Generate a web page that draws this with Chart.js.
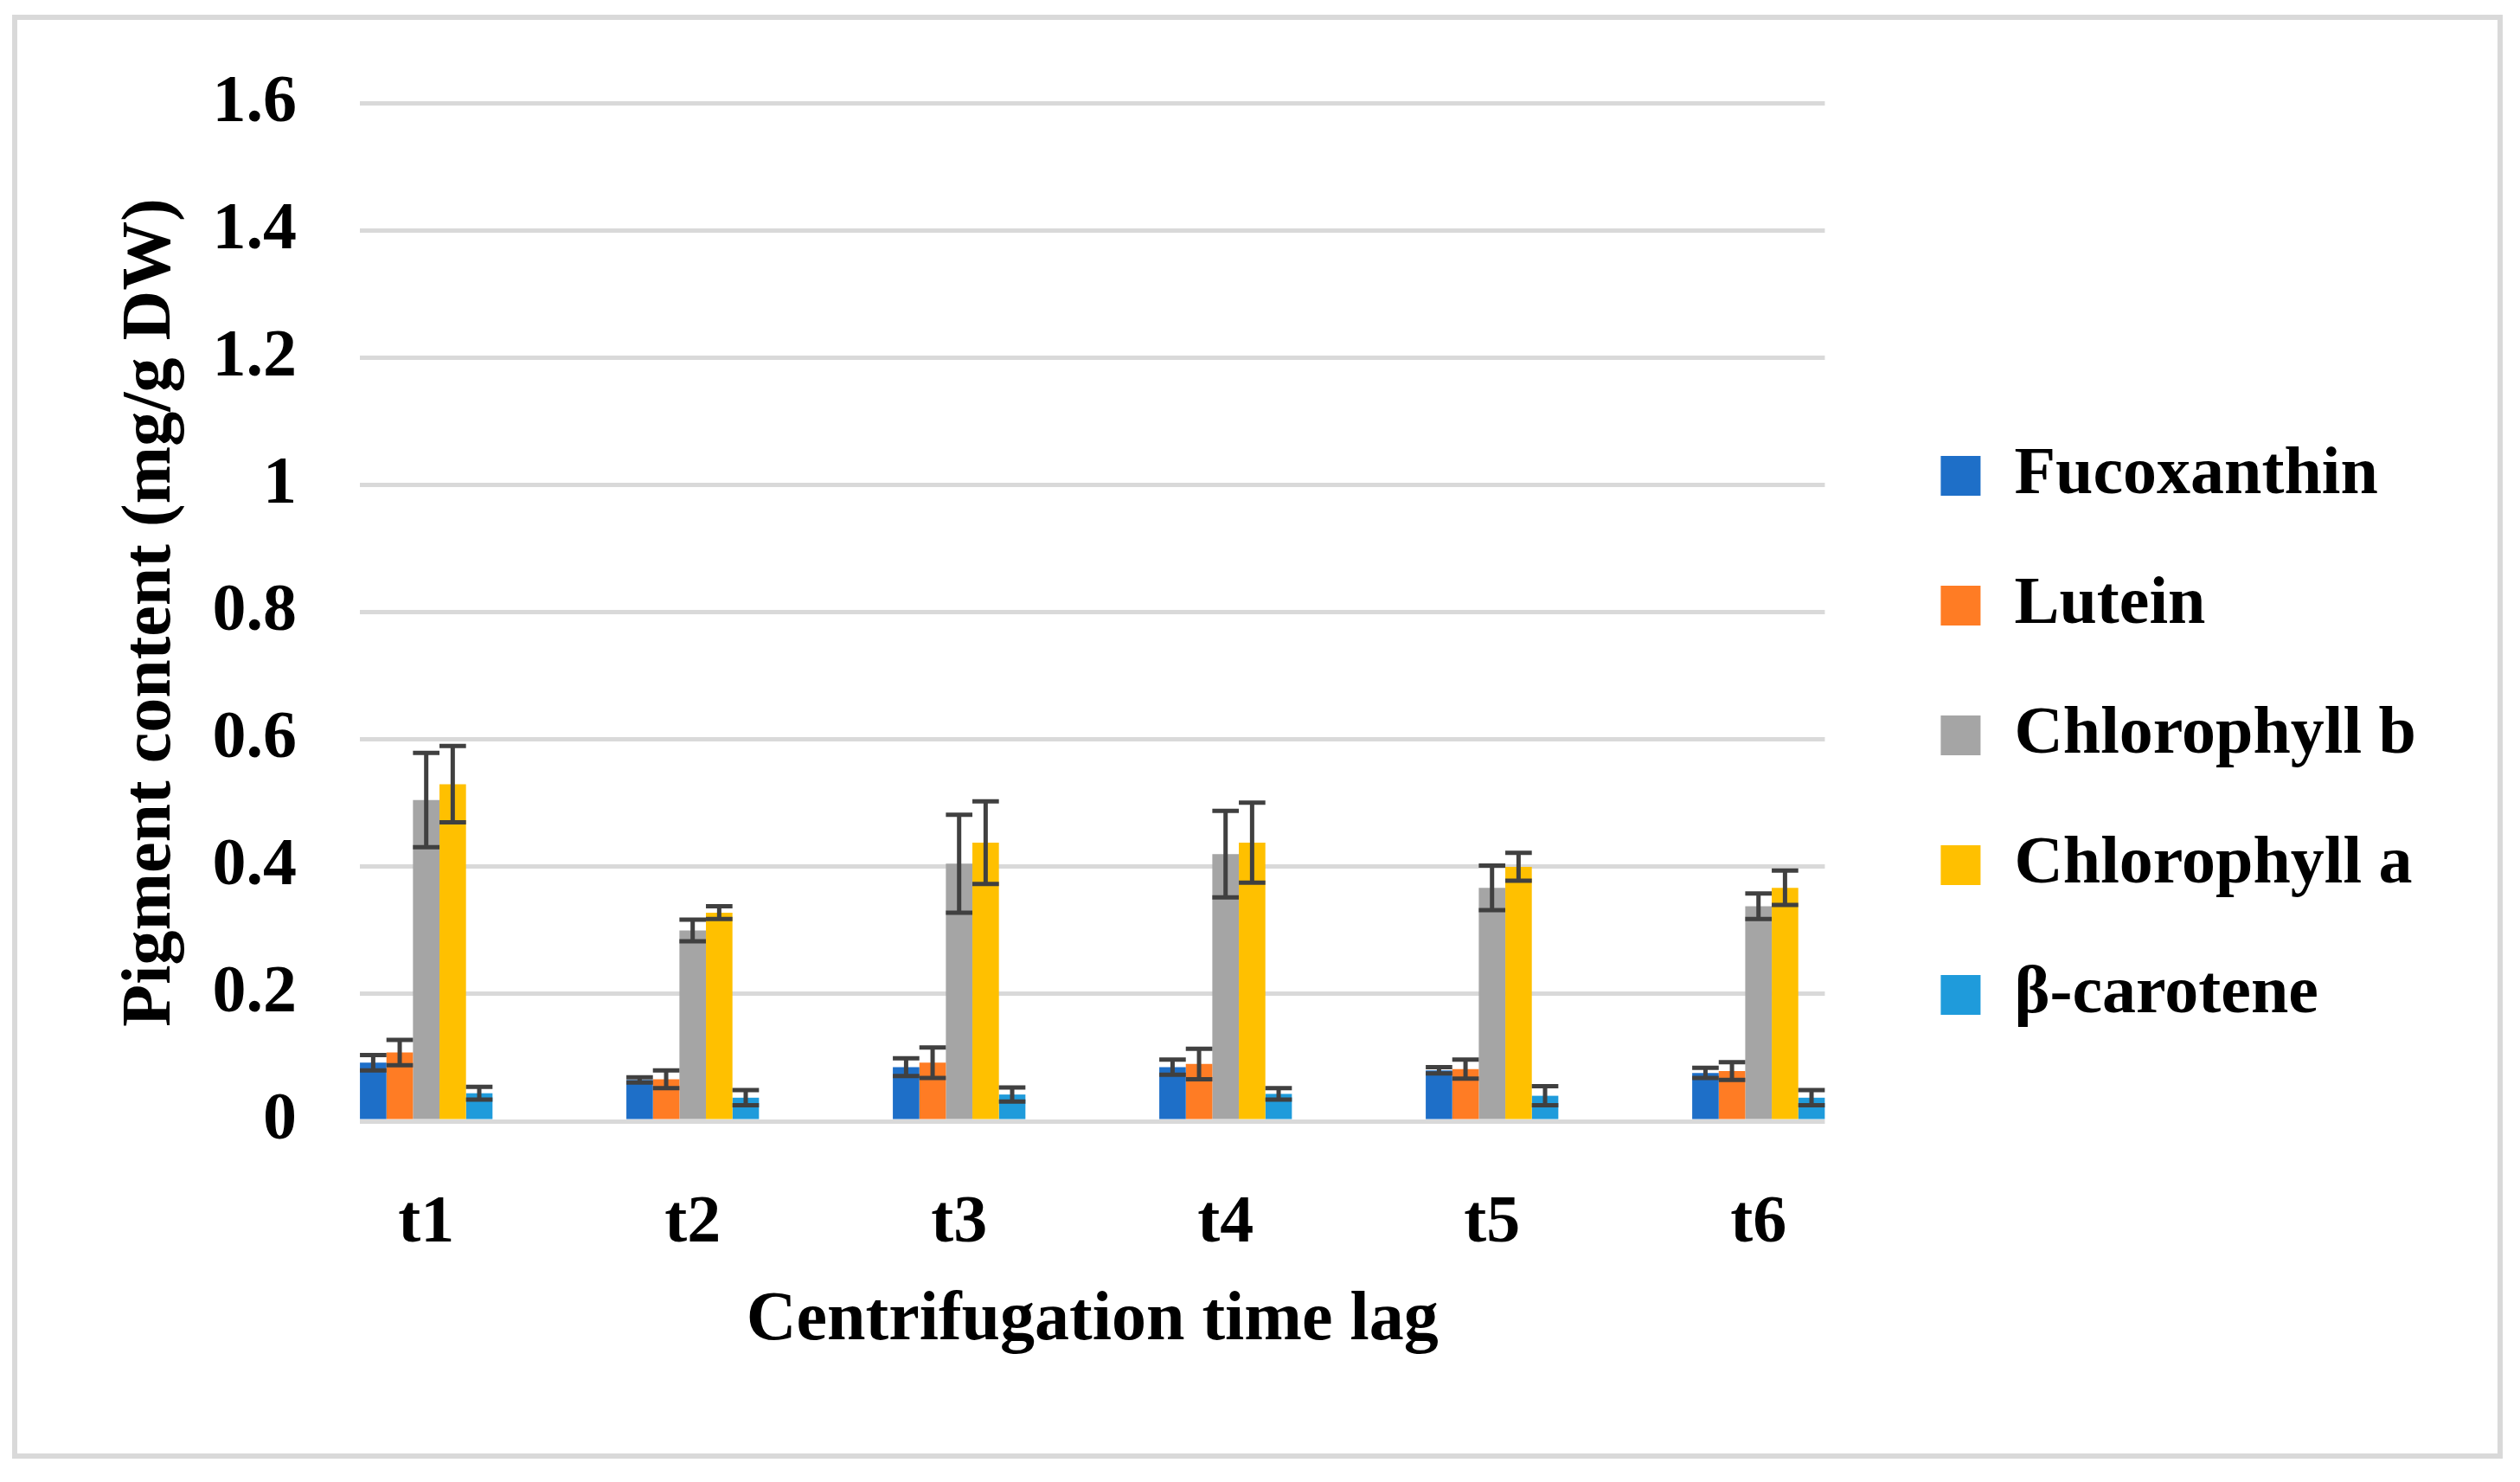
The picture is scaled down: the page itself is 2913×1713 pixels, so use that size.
<!DOCTYPE html>
<html>
<head>
<meta charset="utf-8">
<script src="https://cdn.jsdelivr.net/npm/chart.js@4.4.1/dist/chart.umd.min.js"></script>
<style>
  html, body { margin: 0; padding: 0; background: #ffffff; }
  #wrap { position: relative; width: 2913px; height: 1713px; }
  #frame { position: absolute; left: 14px; top: 17px; width: 2879px; height: 1669px;
           box-sizing: border-box; border: 6px solid #d9d9d9; pointer-events: none; }
  canvas { position: absolute; left: 0; top: 0; }
</style>
</head>
<body>
<div id="wrap">
  <canvas id="c" width="2913" height="1713"></canvas>
  <div id="frame"></div>
</div>
<script>
// ---- data ----
const categories = ['t1', 't2', 't3', 't4', 't5', 't6'];
const seriesNames = ['Fucoxanthin', 'Lutein', 'Chlorophyll b', 'Chlorophyll a', 'β-carotene'];
const seriesColors = ['#1E6FC8', '#FF7C24', '#A5A5A5', '#FFC000', '#1F9BDB'];

const fucoxanthin     = [0.092, 0.065, 0.085, 0.085, 0.080, 0.076];
const fucoxanthinErr  = [0.012, 0.004, 0.014, 0.012, 0.005, 0.008];
const lutein          = [0.108, 0.066, 0.092, 0.090, 0.082, 0.079];
const luteinErr       = [0.020, 0.014, 0.024, 0.024, 0.015, 0.014];
const chlorophyllB    = [0.505, 0.300, 0.405, 0.420, 0.367, 0.338];
const chlorophyllBErr = [0.074, 0.017, 0.077, 0.068, 0.035, 0.020];
const chlorophyllA    = [0.530, 0.328, 0.438, 0.438, 0.400, 0.367];
const chlorophyllAErr = [0.060, 0.010, 0.065, 0.063, 0.022, 0.027];
const betaCarotene    = [0.044, 0.037, 0.042, 0.043, 0.040, 0.037];
const betaCaroteneErr = [0.010, 0.012, 0.011, 0.009, 0.015, 0.012];

const yMin = 0, yMax = 1.6, yStep = 0.2;
const yTitle = 'Pigment content (mg/g DW)';
const xTitle = 'Centrifugation time lag';

const seriesValues = [fucoxanthin, lutein, chlorophyllB, chlorophyllA, betaCarotene];
const seriesErrors = [fucoxanthinErr, luteinErr, chlorophyllBErr, chlorophyllAErr, betaCaroteneErr];

const FONT = 'Liberation Serif';

const datasets = seriesNames.map((name, s) => ({
  label: name,
  data: seriesValues[s].map((v, i) => ({ x: i, y: v })),
  errors: seriesErrors[s],
  backgroundColor: seriesColors[s],
  borderWidth: 0,
  categoryPercentage: 0.4976,
  barPercentage: 1.0,
  clip: false
}));

const errorBars = {
  id: 'errorBars',
  afterDatasetsDraw(chart) {
    const ctx = chart.ctx;
    const yScale = chart.scales.y;
    ctx.save();
    ctx.strokeStyle = '#404040';
    ctx.lineWidth = 5;
    chart.data.datasets.forEach((ds, di) => {
      const meta = chart.getDatasetMeta(di);
      meta.data.forEach((bar, j) => {
        const v = ds.data[j].y, e = ds.errors[j];
        const yt = yScale.getPixelForValue(v + e);
        const yb = yScale.getPixelForValue(v - e);
        const half = bar.width / 2;
        ctx.beginPath();
        ctx.moveTo(bar.x, yt); ctx.lineTo(bar.x, yb);
        ctx.moveTo(bar.x - half, yt); ctx.lineTo(bar.x + half, yt);
        ctx.moveTo(bar.x - half, yb); ctx.lineTo(bar.x + half, yb);
        ctx.stroke();
      });
    });
    ctx.restore();
  }
};

new Chart(document.getElementById('c'), {
  type: 'bar',
  data: { datasets },
  plugins: [errorBars],
  options: {
    responsive: false,
    animation: false,
    devicePixelRatio: 1,
    layout: { padding: { left: 60, right: 110, top: 112, bottom: 125 } },
    plugins: {
      tooltip: { enabled: false },
      legend: {
        position: 'right',
        align: 'center',
        maxWidth: 700,
        labels: {
          boxWidth: 46, boxHeight: 46, padding: 72, color: '#000',
          font: { family: FONT, size: 78, weight: 'bold' }
        }
      }
    },
    scales: {
      x: {
        type: 'linear',
        offset: false,
        min: -0.249, max: 5.249,
        grid: { display: false, offset: false },
        border: { display: false },
        afterBuildTicks: s => { s.ticks = categories.map((c, i) => ({ value: i })); },
        afterFit: s => { s.height = 292; },
        ticks: {
          padding: 64, color: '#000', maxRotation: 0, autoSkip: false,
          font: { family: FONT, size: 78, weight: 'bold' },
          callback: (v) => categories[v]
        },
        title: {
          display: true, text: xTitle, color: '#000',
          font: { family: FONT, size: 80, weight: 'bold' },
          padding: { top: 23, bottom: 13 }
        }
      },
      y: {
        min: yMin, max: yMax,
        grid: { color: '#d9d9d9', lineWidth: 5, drawTicks: false },
        border: { display: false },
        afterFit: s => { s.width = 356; },
        ticks: {
          stepSize: yStep, padding: 73, color: '#000',
          font: { family: FONT, size: 78, weight: 'bold' },
          callback: v => String(+v.toFixed(1))
        },
        title: {
          display: true, text: yTitle, color: '#000',
          font: { family: FONT, size: 80, weight: 'bold' },
          padding: { top: 67, bottom: 25 }
        }
      },
      spacer: {
        type: 'linear', position: 'right', display: true,
        grid: { display: false }, border: { display: false },
        ticks: { display: false },
        afterFit: s => { s.width = 62; }
      }
    }
  }
});
</script>
</body>
</html>
